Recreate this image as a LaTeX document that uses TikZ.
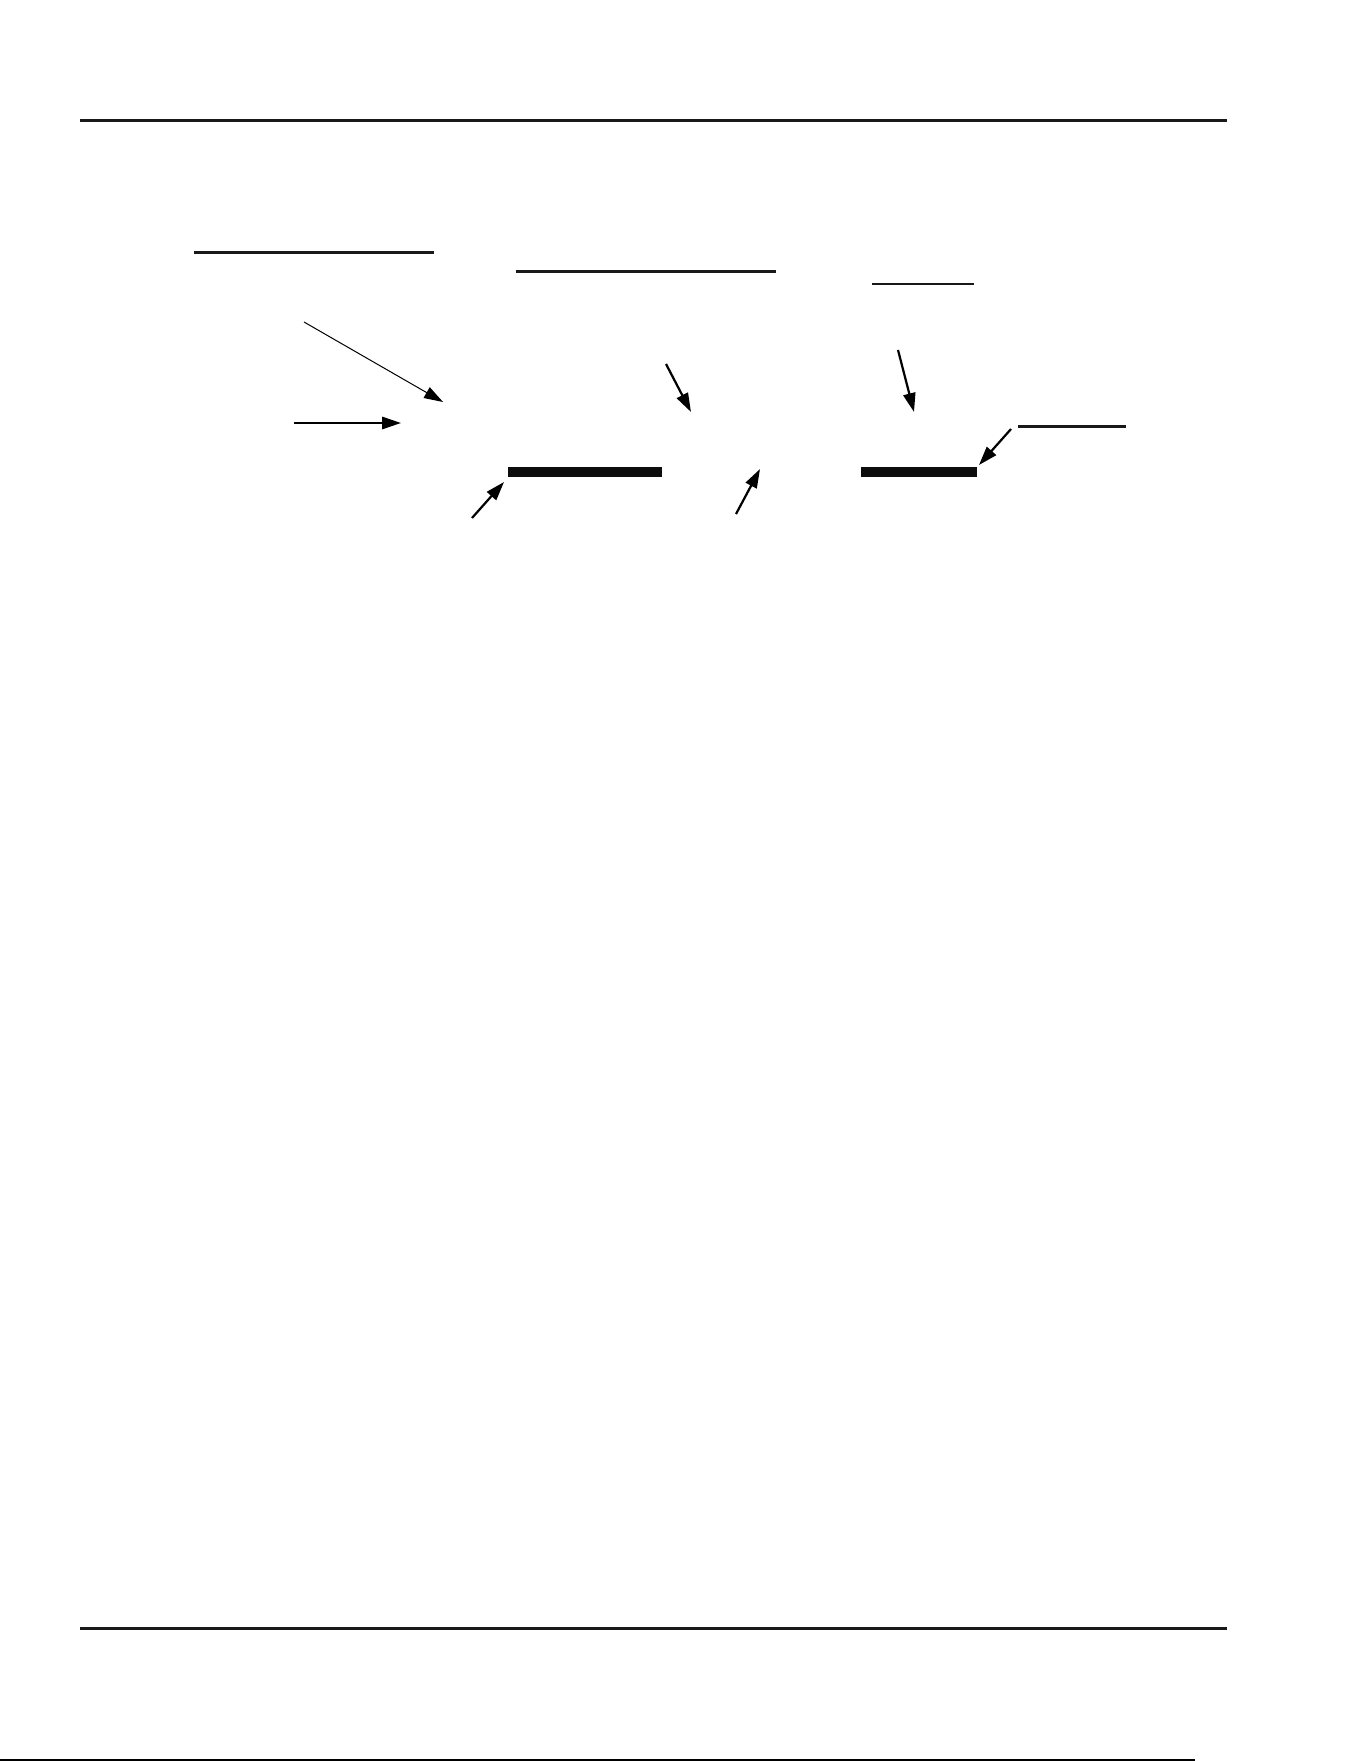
\documentclass[tikz,border=0pt]{standalone}
\usepackage{tikz}
\usetikzlibrary{arrows.meta}

\begin{document}
\begin{tikzpicture}[
        x=0.45pt, y=-0.45pt,
        rule/.style={line width=1.35pt, draw=black!90},
        blank/.style={line width=1.2pt, draw=black!90},
        bar/.style={line width=4.3pt, draw=black!95},
        pointer/.style={-{Triangle[length=8.5pt, width=5.5pt]}, line width=1pt},
        thinpointer/.style={-{Triangle[length=8.5pt, width=5.5pt]}, line width=0.45pt}
    ]
        \useasboundingbox (0,0) rectangle (1361,1761);

        % 1. Page rules
        \coordinate (topL) at (80,120.5);
        \coordinate (topR) at (1227,120.5);
        \coordinate (botL) at (80,1628);
        \coordinate (botR) at (1227,1628);
        \coordinate (edgeL) at (0,1760);
        \coordinate (edgeR) at (1195,1760);
        \draw [rule] (topL) -- (topR);
        \draw [rule] (botL) -- (botR);
        \draw [line width=0.5pt] (edgeL) -- (edgeR);

        % 2. Label blanks
        \coordinate (blankA1) at (194,252.5);
        \coordinate (blankA2) at (434,252.5);
        \coordinate (blankB1) at (516,271.5);
        \coordinate (blankB2) at (776,271.5);
        \coordinate (blankC1) at (872,284);
        \coordinate (blankC2) at (974,284);
        \coordinate (blankD1) at (1018,426.5);
        \coordinate (blankD2) at (1126,426.5);
        \draw [blank] (blankA1) -- (blankA2);
        \draw [blank] (blankB1) -- (blankB2);
        \draw [blank] (blankC1) -- (blankC2);
        \draw [blank] (blankD1) -- (blankD2);

        % 3. Thick bars
        \coordinate (barL1) at (508,472);
        \coordinate (barL2) at (662,472);
        \coordinate (barR1) at (861,472);
        \coordinate (barR2) at (977,472);
        \draw [bar] (barL1) -- (barL2);
        \draw [bar] (barR1) -- (barR2);

        % 4. Pointers
        \coordinate (p1s) at (304,322);
        \coordinate (p1t) at (443,402);
        \coordinate (p2s) at (294,423);
        \coordinate (p2t) at (401,423);
        \coordinate (p3s) at (666,364);
        \coordinate (p3t) at (691,412);
        \coordinate (p4s) at (898,350);
        \coordinate (p4t) at (914,412);
        \coordinate (p5s) at (1011,429);
        \coordinate (p5t) at (979,465);
        \coordinate (p6s) at (472,518);
        \coordinate (p6t) at (504,482);
        \coordinate (p7s) at (736,514);
        \coordinate (p7t) at (760,469);

        \draw [thinpointer] (p1s) -- (p1t);
        \draw [pointer] (p2s) -- (p2t);
        \draw [pointer] (p3s) -- (p3t);
        \draw [pointer] (p4s) -- (p4t);
        \draw [pointer] (p5s) -- (p5t);
        \draw [pointer] (p6s) -- (p6t);
        \draw [pointer] (p7s) -- (p7t);
    \end{tikzpicture}
\end{document}
